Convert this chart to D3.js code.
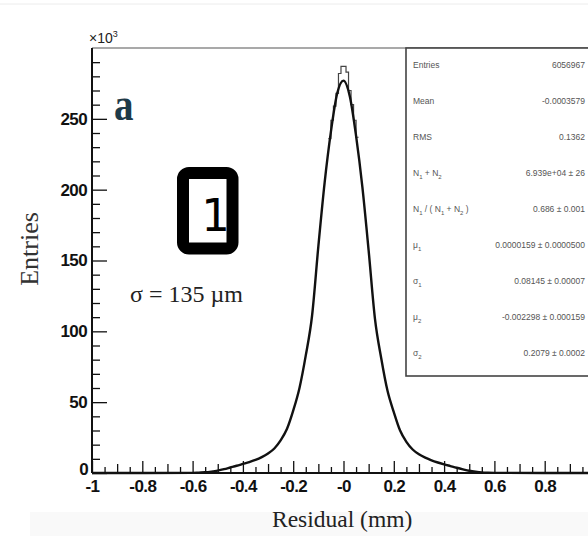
<!DOCTYPE html>
<html>
<head>
<meta charset="utf-8">
<script src="https://cdn.jsdelivr.net/npm/d3@7"></script>
<style>
  body { margin: 0; background: #fff; }
  svg { display: block; }
</style>
</head>
<body>
<svg width="588" height="536"></svg>
<script>
// residual distribution, values in thousands of entries
const fitX = [-1, -0.6, -0.575, -0.55, -0.525, -0.5, -0.475, -0.45, -0.425, -0.4, -0.375, -0.35, -0.325,
  -0.3, -0.275, -0.25, -0.225, -0.2, -0.175, -0.15, -0.125, -0.1, -0.075, -0.05, -0.025, 0,
  0.025, 0.05, 0.075, 0.1, 0.125, 0.15, 0.175, 0.2, 0.225, 0.25, 0.275, 0.3, 0.325, 0.35,
  0.375, 0.4, 0.425, 0.45, 0.475, 0.5, 0.525, 0.55, 0.575, 0.6, 1]
const fitY = [0, 0.1, 0.3, 0.5, 1.0, 1.7, 2.7, 3.9, 5.1, 6.4, 7.7, 9.2, 11.2,
  13.8, 17.3, 23, 31, 44, 60, 83, 111, 160, 205, 241, 268, 277,
  266, 238, 202, 157, 109, 81, 58, 43, 30, 22, 16.6, 13.2, 10.8, 8.9,
  7.4, 6.1, 4.9, 3.7, 2.6, 1.6, 0.9, 0.4, 0.2, 0.1, 0]

// histogram bins around the peak (lower edges, width 0.01)
const histEdges = [-0.06, -0.05, -0.04, -0.03, -0.02, -0.01, 0, 0.01, 0.02, 0.03, 0.04, 0.05]
const histY = [236, 249, 259, 268, 282, 287, 287, 283, 270, 260, 249, 237]

const yMajor = [0, 50, 100, 150, 200, 250]
const xMajor = [-1, -0.8, -0.6, -0.4, -0.2, 0, 0.2, 0.4, 0.6, 0.8]
const xLabels = ['-1', '-0.8', '-0.6', '-0.4', '-0.2', '-0', '0.2', '0.4', '0.6', '0.8']

const statLabels = ['Entries', 'Mean', 'RMS', 'N_1 + N_2', 'N_1 / ( N_1 + N_2 )', 'μ_1', 'σ_1', 'μ_2', 'σ_2']
const statValues = ['6056967', '-0.0003579', '0.1362', '6.939e+04 ± 26', '0.686 ± 0.001',
  '0.0000159 ± 0.0000500', '0.08145 ± 0.00007', '-0.002298 ± 0.000159', '0.2079 ± 0.0002']

const svg = d3.select('svg')
const plotLeft = 92
const plotTop = 48
const plotBottom = 473

const x = d3.scaleLinear().domain([-1, 1]).range([plotLeft, 595])
const y = d3.scaleLinear().domain([0, 300]).range([plotBottom, plotTop])

// scan background bits
svg.append('rect').attr('x', 30).attr('y', 512).attr('width', 558).attr('height', 24).attr('fill', '#f9f9f9')
svg.append('line').attr('x1', 0).attr('x2', 588).attr('y1', 4).attr('y2', 4).attr('stroke', '#ececec')

// frame top
svg.append('line')
  .attr('x1', plotLeft).attr('x2', 595).attr('y1', plotTop).attr('y2', plotTop)
  .attr('stroke', '#555').attr('stroke-width', 1.2)

// minor ticks
const yMinor = d3.range(0, 301, 10).filter(v => v % 50 !== 0)
svg.append('g')
  .attr('transform', `translate(${plotLeft},0)`)
  .call(d3.axisLeft(y).tickValues(yMinor).tickSize(-8).tickFormat(''))
  .call(g => g.select('.domain').remove())

const xMid = d3.range(-9, 10, 2).map(v => v / 10)
const xMinor = d3.range(-19, 20, 2).map(v => v / 20)
svg.append('g')
  .attr('transform', `translate(0,${plotBottom})`)
  .call(d3.axisBottom(x).tickValues(xMid).tickSize(-9).tickFormat(''))
  .call(g => g.select('.domain').remove())
svg.append('g')
  .attr('transform', `translate(0,${plotBottom})`)
  .call(d3.axisBottom(x).tickValues(xMinor).tickSize(-6).tickFormat(''))
  .call(g => g.select('.domain').remove())

// major axes
const yAxis = svg.append('g')
  .attr('transform', `translate(${plotLeft},0)`)
  .call(d3.axisLeft(y).tickValues(yMajor).tickSize(-15).tickSizeOuter(0).tickPadding(5))
yAxis.select('.domain').attr('d', `M0,${plotBottom}V${plotTop}`)

const xAxis = svg.append('g')
  .attr('transform', `translate(0,${plotBottom})`)
  .call(d3.axisBottom(x).tickValues(xMajor).tickSize(-12).tickSizeOuter(0).tickPadding(7)
    .tickFormat((d, i) => xLabels[i]))
xAxis.select('.domain').attr('d', `M${plotLeft},0H595`)

svg.selectAll('.tick line').attr('stroke', '#111').attr('stroke-width', 1.3)
svg.selectAll('.domain').attr('stroke', '#111').attr('stroke-width', 2)
svg.selectAll('.tick text')
  .attr('fill', '#111')
  .attr('font-family', 'Liberation Sans, Arial, sans-serif')
  .attr('font-weight', 'bold')
  .attr('font-size', 17)
  .attr('letter-spacing', -0.6)
yAxis.selectAll('.tick').filter(d => d === 0).select('text').attr('x', -4).attr('dy', '0.1em')

// histogram steps near the peak
const steps = []
histEdges.forEach((e, i) => {
  steps.push([e, histY[i]])
  steps.push([e + 0.01, histY[i]])
})
const stepLine = d3.line().x(d => x(d[0])).y(d => y(d[1]))
svg.append('path')
  .datum(steps)
  .attr('d', stepLine)
  .attr('fill', 'none')
  .attr('stroke', '#444')
  .attr('stroke-width', 1.2)

// fitted curve
const fitLine = d3.line()
  .x((d, i) => x(fitX[i]))
  .y(d => y(d))
  .curve(d3.curveMonotoneX)
svg.append('path')
  .datum(fitY)
  .attr('d', fitLine)
  .attr('fill', 'none')
  .attr('stroke', '#111')
  .attr('stroke-width', 2.4)

// stats box
svg.append('rect')
  .attr('x', 406).attr('y', plotTop).attr('width', 200).attr('height', 328)
  .attr('fill', '#fff').attr('stroke', '#444').attr('stroke-width', 1.6)

const rowY = d3.scaleLinear().domain([0, 8]).range([68, 356])
function addSub(textSel, str) {
  let back = 0
  str.split(/(_\d)/).forEach(part => {
    if (part.startsWith('_')) {
      textSel.append('tspan').attr('font-size', 6).attr('dy', 3 - back).text(part.slice(1))
      back = 3
    } else if (part) {
      textSel.append('tspan').attr('dy', -back).text(part)
      back = 0
    }
  })
}
statLabels.forEach((lab, i) => {
  const t = svg.append('text')
    .attr('x', 413).attr('y', rowY(i))
    .attr('font-family', 'Liberation Sans, Arial, sans-serif')
    .attr('font-size', 8.5)
    .attr('fill', '#555')
  addSub(t, lab)
  svg.append('text')
    .attr('x', 585).attr('y', rowY(i))
    .attr('text-anchor', 'end')
    .attr('font-family', 'Liberation Sans, Arial, sans-serif')
    .attr('font-size', 8.5)
    .attr('fill', '#555')
    .text(statValues[i])
})

// multiplier
const mult = svg.append('text')
  .attr('x', 89).attr('y', 43)
  .attr('font-family', 'Liberation Sans, Arial, sans-serif')
  .attr('font-size', 14)
  .attr('fill', '#222')
mult.append('tspan').text('×10')
mult.append('tspan').attr('font-size', 9).attr('dy', -6).text('3')

// panel letter
svg.append('text')
  .attr('transform', 'translate(114,120) scale(0.85,1)')
  .attr('font-family', 'Liberation Serif, Times New Roman, serif')
  .attr('font-weight', 'bold')
  .attr('font-size', 46)
  .attr('fill', '#1e3a48')
  .text('a')

// boxed "1"
svg.append('rect')
  .attr('x', 183).attr('y', 173).attr('width', 49.5).attr('height', 75.5)
  .attr('rx', 6)
  .attr('fill', '#fff').attr('stroke', '#000').attr('stroke-width', 12)
svg.append('text')
  .attr('x', 230).attr('y', 231)
  .attr('text-anchor', 'end')
  .attr('font-family', 'DejaVu Sans, sans-serif')
  .attr('font-size', 45)
  .attr('fill', '#000')
  .text('1')

svg.append('text')
  .attr('x', 130).attr('y', 302)
  .attr('font-family', 'Liberation Serif, Times New Roman, serif')
  .attr('font-size', 24)
  .attr('fill', '#222')
  .text('σ = 135 µm')

// axis titles
svg.append('text')
  .attr('transform', 'translate(38,249) rotate(-90)')
  .attr('text-anchor', 'middle')
  .attr('font-family', 'Liberation Serif, Times New Roman, serif')
  .attr('font-size', 26)
  .attr('fill', '#333')
  .text('Entries')

svg.append('text')
  .attr('x', 272).attr('y', 527)
  .attr('font-family', 'Liberation Serif, Times New Roman, serif')
  .attr('font-size', 23.5)
  .attr('fill', '#222')
  .text('Residual (mm)')
</script>
</body>
</html>
